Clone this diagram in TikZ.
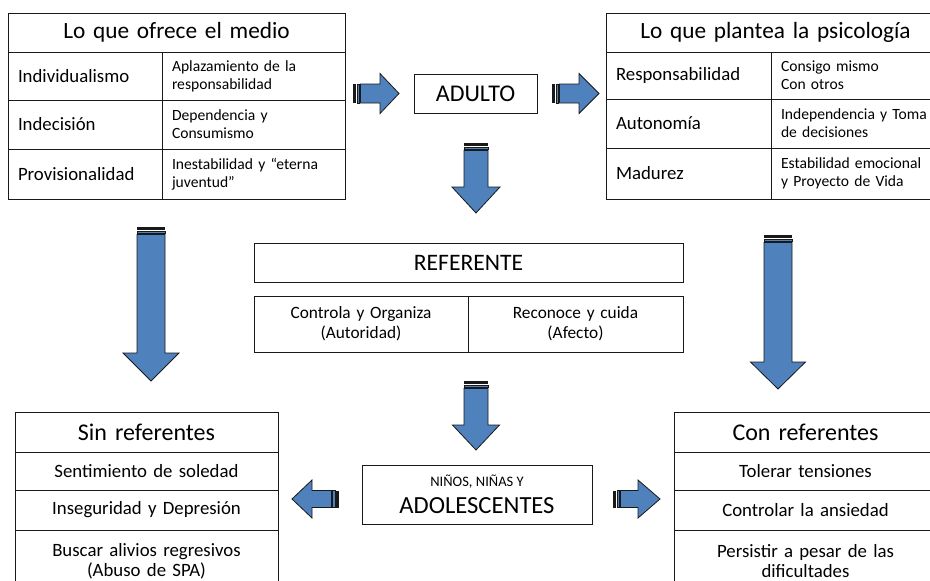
\documentclass[tikz,border=0pt]{standalone}
\usepackage{fontspec}
\setmainfont{Carlito}
\definecolor{arrblue}{RGB}{79,129,189}
\definecolor{linec}{RGB}{25,25,25}
\tikzset{
  cell/.style={draw=linec, line width=0.9pt, inner xsep=10pt, inner ysep=0pt, outer sep=0pt, anchor=north west},
  ttl/.style={font=\fontsize{23.3}{26}\selectfont, align=center},
  bodyl/.style={font=\fontsize{18.8}{20}\selectfont, align=left},
  bodyc/.style={font=\fontsize{18.8}{20}\selectfont, align=center},
  smalll/.style={font=\fontsize{15.6}{18}\selectfont, align=left},
  midc/.style={font=\fontsize{17.3}{20}\selectfont, align=center},
  pics/sarrow/.style n args={4}{code={
    \fill[linec] (0,-#2) rectangle (3,#2);
    \filldraw[fill=arrblue, draw=linec, line width=0.6pt] (4,-#2) rectangle (6.5,#2);
    \filldraw[fill=arrblue, draw=linec, line width=0.8pt, line join=miter]
      (7.5,-#2) -- ({#1-#4},-#2) -- ({#1-#4},-#3) -- (#1,0) -- ({#1-#4},#3) -- ({#1-#4},#2) -- (7.5,#2) -- cycle;
  }}
}
\begin{document}
\begin{tikzpicture}[x=1pt, y=-1pt]
\useasboundingbox (0,0) rectangle (930,581);
\clip (0,0) rectangle (930,581);

% ---------- Lo que ofrece el medio ----------
\node[cell, ttl, text width=317pt, minimum height=39pt] (lt) at (8,13) {Lo que ofrece el medio};
\node[cell, bodyl, text width=134pt, minimum height=48pt] (l1a) at (8,52) {Individualismo};
\node[cell, smalll, text width=163pt, minimum height=48pt] (l1b) at (162,52) {Aplazamiento de la\\responsabilidad};
\node[cell, bodyl, text width=134pt, minimum height=49pt] (l2a) at (8,100) {Indecisión};
\node[cell, smalll, text width=163pt, minimum height=49pt] (l2b) at (162,100) {Dependencia y\\Consumismo};
\node[cell, bodyl, text width=134pt, minimum height=50pt] (l3a) at (8,149) {Provisionalidad};
\node[cell, smalll, text width=163pt, minimum height=50pt] (l3b) at (162,149) {Inestabilidad y “eterna\\juventud”};

% ---------- Lo que plantea la psicología ----------
\node[cell, ttl, text width=319pt, minimum height=39pt] (rt) at (606,13) {Lo que plantea la psicología};
\node[cell, bodyl, text width=145pt, minimum height=47pt] (r1a) at (606,52) {Responsabilidad};
\node[cell, smalll, text width=154pt, minimum height=47pt] (r1b) at (771,52) {Consigo mismo\\Con otros};
\node[cell, bodyl, text width=145pt, minimum height=49pt] (r2a) at (606,99) {Autonomía};
\node[cell, smalll, text width=154pt, minimum height=49pt] (r2b) at (771,99) {Independencia y Toma\\de decisiones};
\node[cell, bodyl, text width=145pt, minimum height=51pt] (r3a) at (606,148) {Madurez};
\node[cell, smalll, text width=154pt, minimum height=51pt] (r3b) at (771,148) {Estabilidad emocional\\y Proyecto de Vida};

% ---------- ADULTO ----------
\node[cell, anchor=center, minimum width=123pt, minimum height=39pt, font=\fontsize{24}{26}\selectfont] (adulto) at (475.5,93.5) {ADULTO};

% ---------- REFERENTE ----------
\node[cell, anchor=center, minimum width=429pt, minimum height=39pt, font=\fontsize{23.6}{26}\selectfont] (ref) at (468.5,262.5) {REFERENTE};
\node[cell, midc, text width=194pt, minimum height=56pt] (refa) at (254,296) {Controla y Organiza\\(Autoridad)};
\node[cell, midc, text width=195pt, minimum height=56pt] (refb) at (468,296) {Reconoce y cuida\\(Afecto)};

% ---------- NIÑOS ----------
\node[cell, anchor=center, minimum width=230pt, minimum height=59pt] (nna) at (477,494.5) {};
\node[font=\fontsize{14.5}{16}\selectfont, inner sep=0pt] (nna1) at (477,482) {NIÑOS, NIÑAS Y};
\node[font=\fontsize{24.6}{28}\selectfont, inner sep=0pt] (nna2) at (477,506) {ADOLESCENTES};

% ---------- Sin referentes ----------
\node[cell, ttl, font=\fontsize{24}{26}\selectfont, text width=243pt, minimum height=40pt] (st) at (15,412) {Sin referentes};
\node[cell, bodyc, text width=243pt, minimum height=38pt] (s1) at (15,452) {Sentimiento de soledad};
\node[cell, bodyc, text width=243pt, minimum height=40pt] (s2) at (15,490) {Inseguridad y Depresión};
\node[cell, bodyc, text width=243pt, minimum height=62pt] (s3) at (15,530) {Buscar alivios regresivos\\(Abuso de SPA)};

% ---------- Con referentes ----------
\node[cell, ttl, font=\fontsize{24}{26}\selectfont, text width=243pt, minimum height=40pt] (ct) at (674,412) {Con referentes};
\node[cell, bodyc, text width=243pt, minimum height=38pt] (c1) at (674,452) {Tolerar tensiones};
\node[cell, bodyc, text width=243pt, minimum height=40pt] (c2) at (674,490) {Controlar la ansiedad};
\node[cell, bodyc, text width=243pt, minimum height=62pt] (c3) at (674,530) {Persistir a pesar de las\\dificultades};

% ---------- Block arrows ----------
\pic at (353,93.5) {sarrow={46}{9.5}{20}{19}};
\pic at (552,93.5) {sarrow={47}{9.5}{20}{20}};
\pic[rotate=-90] at (476,143) {sarrow={70}{12}{24}{26}};
\pic[rotate=-90] at (151,227) {sarrow={154}{14}{28}{28}};
\pic[rotate=-90] at (778,235) {sarrow={154}{14}{27.5}{27}};
\pic[rotate=-90] at (476,381) {sarrow={69}{12}{23.5}{25}};
\pic[rotate=180] at (339,499) {sarrow={47}{8.5}{19}{20}};
\pic at (613,499) {sarrow={47}{8.5}{19}{22}};
\end{tikzpicture}
\end{document}
